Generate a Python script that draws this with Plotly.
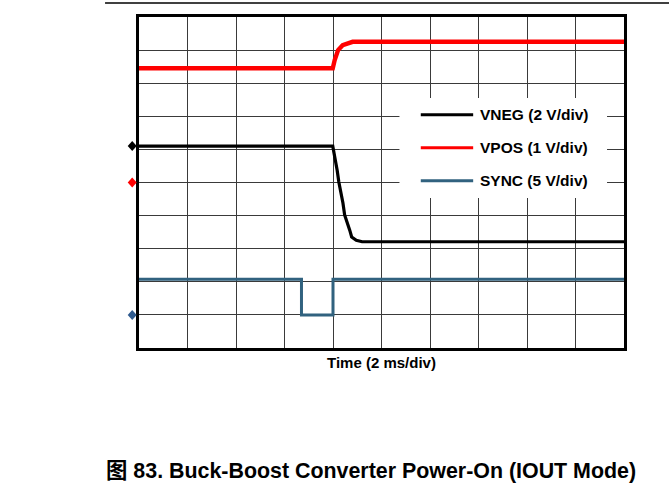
import plotly.graph_objects as go

# Scope settings: 2 ms/div horizontally, 10 x 10 division graticule
ms_per_div = 2.0
n_xdiv = 10
n_ydiv = 10

# Channel names, vertical scale (V/div) and ground-marker position (div from bottom)
channel_names = ["VNEG (2 V/div)", "VPOS (1 V/div)", "SYNC (5 V/div)"]
volts_per_div = [2.0, 1.0, 5.0]
ground_div = [6.1, 5.0, 1.0]
channel_colors = ["#000000", "#ff0000", "#31627f"]
marker_colors = ["#000000", "#ff0000", "#2f5b8f"]
line_widths = [3.2, 4.4, 3.0]

# Captured waveforms (time in ms, amplitude in V)
vneg_t = [0.0, 7.99, 8.17, 8.24, 8.41, 8.48, 8.69, 8.77, 8.96, 9.2, 20.0]
vneg_v = [0.0, 0.0, -1.44, -2.17, -3.44, -4.16, -5.08, -5.49, -5.69, -5.78, -5.78]

vpos_t = [0.0, 7.99, 8.07, 8.21, 8.40, 8.81, 20.0]
vpos_v = [3.45, 3.45, 3.70, 4.00, 4.15, 4.25, 4.25]

sync_t = [0.0, 6.70, 6.70, 8.00, 8.00, 20.0]
sync_v = [5.4, 5.4, 0.0, 0.0, 5.4, 5.4]

x_label = "Time (2 ms/div)"
caption = "图 83. Buck-Boost Converter Power-On (IOUT Mode)"

FONT = "Liberation Sans, Arial, Noto Sans CJK SC, sans-serif"

waves = [(vneg_t, vneg_v), (vpos_t, vpos_v), (sync_t, sync_v)]
x_max = ms_per_div * n_xdiv

fig = go.Figure()

for (t, v), name, vdiv, g, col, lw in zip(waves, channel_names, volts_per_div,
                                           ground_div, channel_colors, line_widths):
    fig.add_trace(go.Scatter(
        x=t, y=[val / vdiv + g for val in v], mode="lines", name=name,
        line=dict(color=col, width=lw), showlegend=False, hoverinfo="skip",
    ))

grid = dict(showgrid=True, gridcolor="#3a3a3a", gridwidth=1, zeroline=False,
            showticklabels=False, ticks="", showline=True, linecolor="#000000",
            linewidth=2.5, mirror=True, fixedrange=True)

fig.update_layout(
    width=669, height=491,
    margin=dict(l=139, r=45, t=17, b=143),
    paper_bgcolor="#ffffff", plot_bgcolor="#ffffff",
    font=dict(family=FONT, color="#000000"),
    xaxis=dict(range=[0, x_max], tick0=0, dtick=ms_per_div, **grid),
    yaxis=dict(range=[0, n_ydiv], tick0=0, dtick=1, **grid),
)

shapes = []

# Ground-reference diamonds just left of the graticule (paper x, data y)
diamond_x = -0.014
for g, col in zip(ground_div, marker_colors):
    shapes.append(dict(type="path", xref="paper", yref="y",
                       xsizemode="pixel", ysizemode="pixel",
                       xanchor=diamond_x, yanchor=g,
                       path="M0,5 L4.5,0 L0,-5 L-4.5,0 Z",
                       fillcolor=col, line=dict(width=0), layer="above"))

# Legend panel drawn in graticule units
box_x0, box_x1, box_y0, box_y1 = 10.74, 19.3, 4.53, 7.55
sample_x0, sample_x1, text_x = 11.62, 13.78, 13.98
row_y = [7.05, 6.05, 5.05]

shapes.append(dict(type="rect", xref="x", yref="y", x0=box_x0, x1=box_x1,
                   y0=box_y0, y1=box_y1, fillcolor="#ffffff",
                   line=dict(width=0), layer="above"))
annotations = []
for name, col, ry in zip(channel_names, channel_colors, row_y):
    shapes.append(dict(type="line", xref="x", yref="y", x0=sample_x0, x1=sample_x1,
                       y0=ry, y1=ry, line=dict(color=col, width=3), layer="above"))
    annotations.append(dict(x=text_x, y=ry, xref="x", yref="y", text=f"<b>{name}</b>",
                            showarrow=False, xanchor="left", yanchor="middle",
                            font=dict(size=15.5, family=FONT)))

# Rule across the top of the page
shapes.append(dict(type="line", xref="paper", yref="paper", x0=-0.07, x1=1.1,
                   y0=1.0423, y1=1.0423, line=dict(color="#000000", width=1.5)))

annotations.append(dict(x=0.501, y=-0.0423, xref="paper", yref="paper",
                        text=f"<b>{x_label}</b>", showarrow=False,
                        xanchor="center", yanchor="middle",
                        font=dict(size=15, family=FONT)))
annotations.append(dict(x=0.479, y=-0.373, xref="paper", yref="paper",
                        text=f"<b>{caption}</b>", showarrow=False,
                        xanchor="center", yanchor="middle",
                        font=dict(size=21.4, family=FONT)))

fig.update_layout(shapes=shapes, annotations=annotations)

fig.write_html("out.html")
